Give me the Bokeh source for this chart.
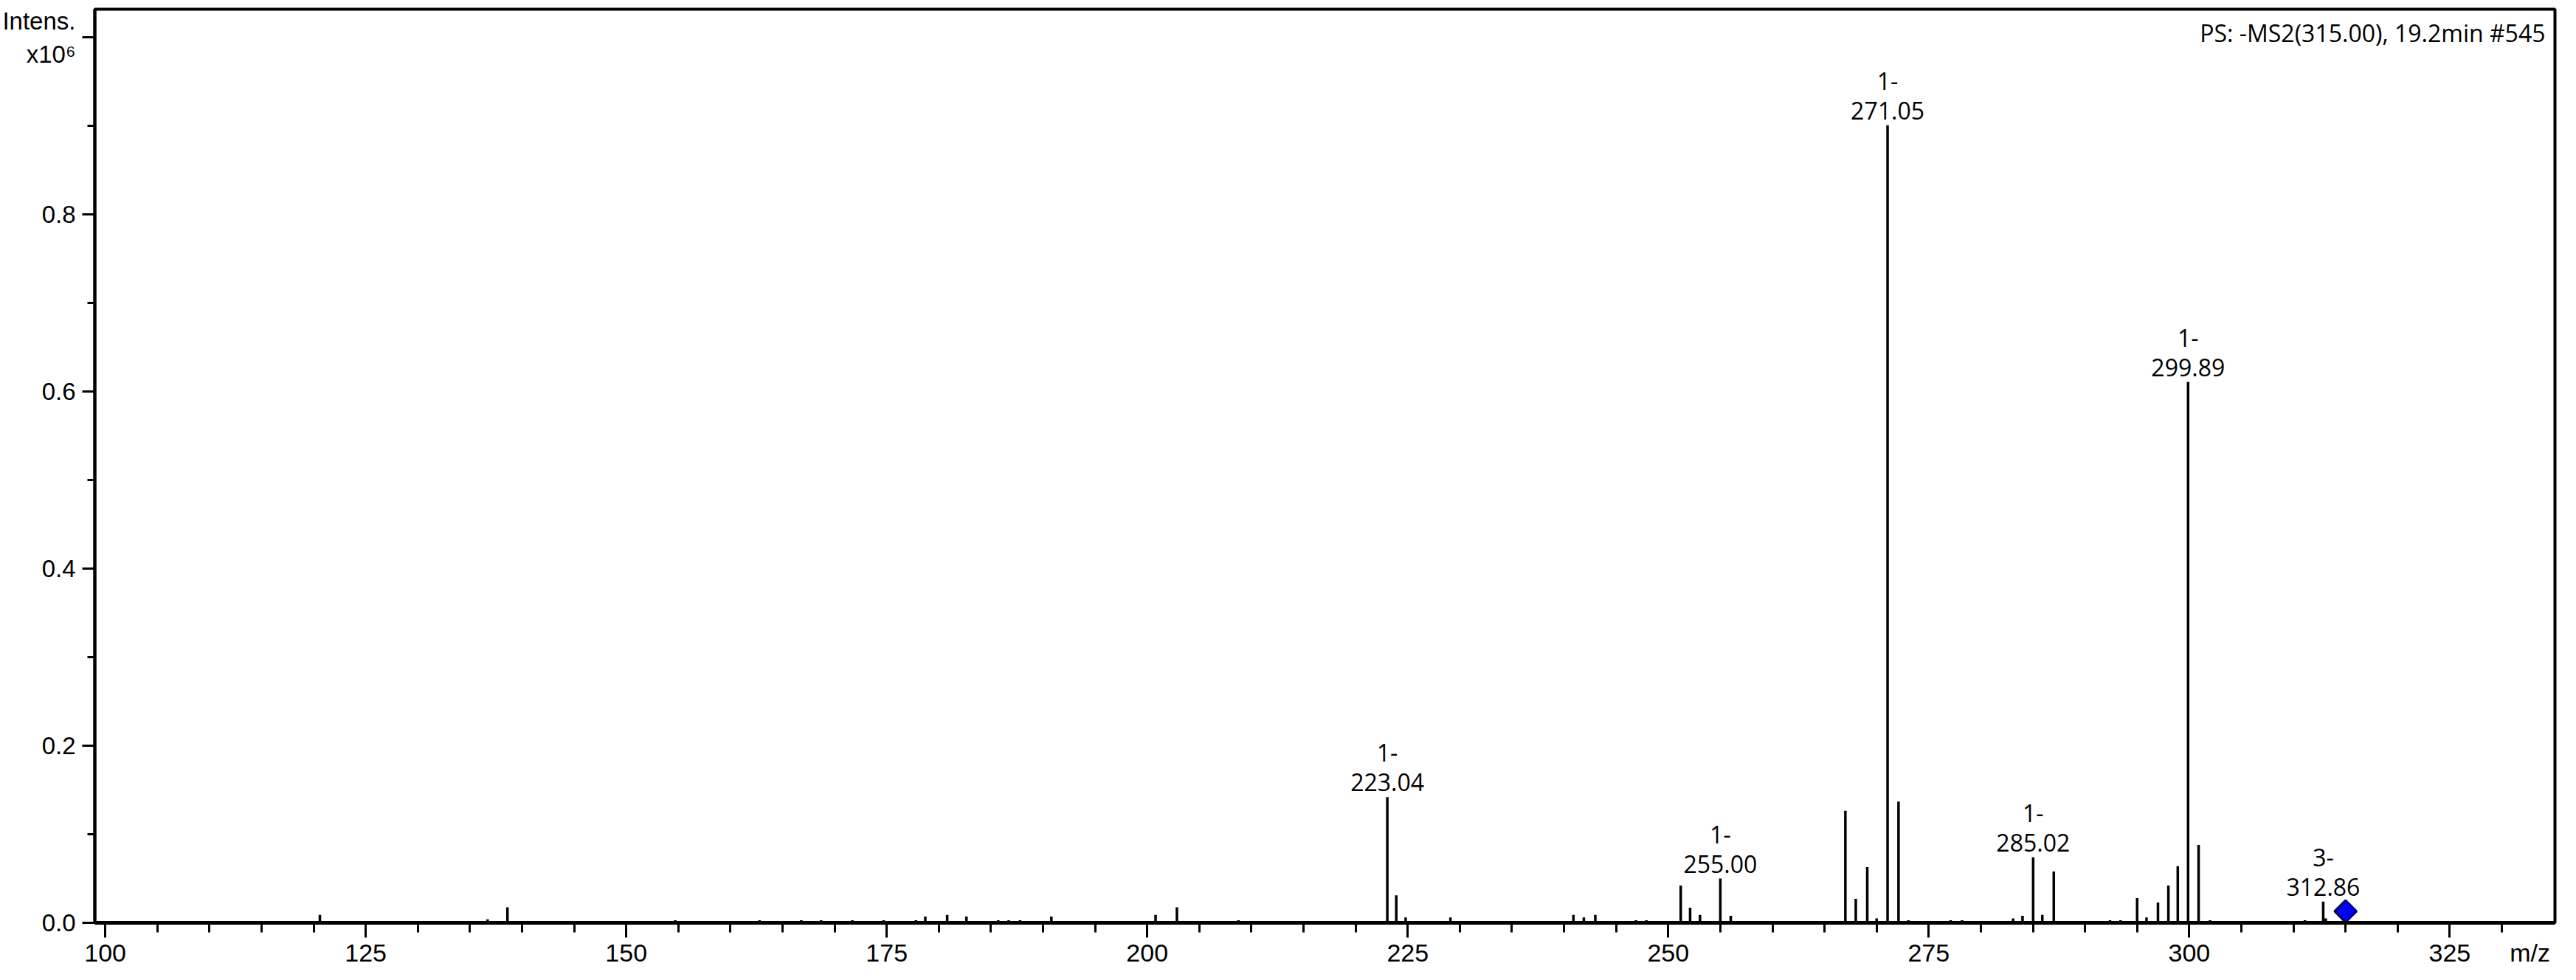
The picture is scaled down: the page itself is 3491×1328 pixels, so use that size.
from bokeh.plotting import figure
from bokeh.models import (ColumnDataSource, FixedTicker, PrintfTickFormatter, Label,
                          Range1d, LinearAxis)
from bokeh.embed import file_html
from bokeh.resources import INLINE
from bokeh.core.properties import value

# ---- data (m/z, intensity in units of 1e6) ----
peak_mz = [120.6, 136.7, 138.6, 154.7, 162.8, 166.8, 168.7, 171.7, 174.7, 177.8,
           178.7, 180.8, 182.65, 185.7, 186.7, 187.8, 190.8, 200.8, 202.85, 208.75,
           223.04, 223.9, 224.8, 226.7, 229.1, 240.9, 241.9, 243.0, 246.9, 247.9,
           251.2, 252.1, 253.05, 255.00, 256.0, 267.0, 268.0, 269.1, 270.0, 271.05,
           272.1, 273.05, 277.1, 278.2, 283.1, 284.0, 285.02, 285.9, 287.0, 287.5,
           292.4, 293.4, 295.0, 295.9, 297.0, 298.0, 298.9, 299.89, 300.9, 302.0,
           311.1, 312.86, 313.1]
peak_int = [0.009, 0.004, 0.0175, 0.003, 0.003, 0.003, 0.003, 0.003, 0.003, 0.003,
            0.007, 0.009, 0.007, 0.003, 0.003, 0.003, 0.007, 0.009, 0.0175, 0.003,
            0.142, 0.031, 0.006, 0.002, 0.006, 0.009, 0.006, 0.009, 0.003, 0.003,
            0.042, 0.017, 0.009, 0.050, 0.008, 0.1265, 0.027, 0.063, 0.005, 0.901,
            0.137, 0.003, 0.003, 0.003, 0.005, 0.008, 0.074, 0.009, 0.058, 0.002,
            0.003, 0.003, 0.028, 0.006, 0.023, 0.042, 0.064, 0.611, 0.088, 0.003,
            0.003, 0.024, 0.005]

label_mz = [223.04, 255.00, 271.05, 285.02, 299.89, 312.86]
label_int = [0.142, 0.050, 0.901, 0.074, 0.611, 0.024]
label_charge = ["1-", "1-", "1-", "1-", "1-", "3-"]
label_text = ["223.04", "255.00", "271.05", "285.02", "299.89", "312.86"]

precursor_mz = [315.00]
precursor_int = [0.013]

x_ticks = [100, 125, 150, 175, 200, 225, 250, 275, 300, 325]
x_minor = [v for v in range(100, 335, 5)]
y_ticks = [0.0, 0.2, 0.4, 0.6, 0.8, 1.0]
y_minor = [0.1, 0.3, 0.5, 0.7, 0.9]

x_unit_text = "m/z"
x_unit_pos = 332.7          # where the unit text sits on the m/z axis
y_unit_text = "Intens.\nx10\u2076"
title_text = "PS: -MS2(315.00), 19.2min #545"

AXIS_FONT = "Liberation Sans"

# ---- figure ----
p = figure(width=3475, height=1312, output_backend="svg", toolbar_location=None,
           x_range=Range1d(99.0, 335.1), y_range=Range1d(0.0, 1.032),
           min_border_left=127, min_border_right=13, min_border_top=12,
           min_border_bottom=62)
p.background_fill_color = "white"
p.border_fill_color = "white"
p.outline_line_color = "black"
p.outline_line_width = 4
p.xgrid.visible = False
p.ygrid.visible = False

# x axis: line + ticks only
ax = p.xaxis[0]
ax.ticker = FixedTicker(ticks=x_ticks, minor_ticks=x_minor)
ax.axis_line_width = 5
ax.major_tick_line_width = 3
ax.minor_tick_line_width = 3
ax.major_tick_in = 0
ax.major_tick_out = 20
ax.minor_tick_in = 0
ax.minor_tick_out = 13
ax.major_label_standoff = 0
ax.major_label_text_font_size = "1px"
ax.major_label_text_line_height = 1.0
ax.major_label_text_color = None

# second x axis below: the tick labels plus the unit text
lab_ticks = x_ticks + [x_unit_pos]
ax2 = LinearAxis(ticker=FixedTicker(ticks=lab_ticks, minor_ticks=[]))
ax2.major_label_overrides = {x_unit_pos: x_unit_text, str(x_unit_pos): x_unit_text}
ax2.axis_line_color = None
ax2.major_tick_line_color = None
ax2.minor_tick_line_color = None
ax2.major_tick_in = 0
ax2.major_tick_out = 0
ax2.minor_tick_in = 0
ax2.minor_tick_out = 0
ax2.major_label_standoff = 1
ax2.major_label_text_font = AXIS_FONT
ax2.major_label_text_font_size = "34px"
ax2.major_label_text_line_height = 1.0
ax2.major_label_text_color = "black"
p.add_layout(ax2, "below")

ay = p.yaxis[0]
ay.ticker = FixedTicker(ticks=y_ticks, minor_ticks=y_minor)
ay.formatter = PrintfTickFormatter(format="%.1f")
ay.major_label_overrides = {1: y_unit_text, "1": y_unit_text, "1.0": y_unit_text}
ay.axis_line_width = 4
ay.major_tick_line_width = 3
ay.minor_tick_line_width = 3
ay.major_tick_in = 0
ay.major_tick_out = 17
ay.minor_tick_in = 0
ay.minor_tick_out = 10
ay.major_label_standoff = 9
ay.major_label_text_font = AXIS_FONT
ay.major_label_text_font_size = "33px"
ay.major_label_text_color = "black"

# ---- spectrum sticks ----
src = ColumnDataSource(dict(mz=peak_mz, inten=peak_int, base=[0.0] * len(peak_mz)))
p.segment(x0="mz", y0="base", x1="mz", y1="inten", source=src,
          line_color="black", line_width=3.5)

# ---- peak labels ----
lsrc = ColumnDataSource(dict(mz=label_mz, inten=label_int, charge=label_charge, txt=label_text))
p.text(x="mz", y="inten", text="txt", source=lsrc, text_align="center",
       text_baseline="alphabetic", y_offset=-20, text_font=value("Open Sans"),
       text_font_size="32px", text_color="black")
p.text(x="mz", y="inten", text="charge", source=lsrc, text_align="center",
       text_baseline="alphabetic", y_offset=-60, text_font=value("Open Sans"),
       text_font_size="32px", text_color="black")

# ---- precursor marker ----
p.scatter(x=precursor_mz, y=precursor_int, marker="square", size=21, angle=0.785398,
          fill_color="#0000F5", line_color="#00006E", line_width=3)

# ---- scan title inside the frame ----
p.add_layout(Label(x=p.x_range.end, y=p.y_range.end, text=title_text,
                   x_offset=-13, y_offset=-32,
                   text_font="Open Sans", text_font_size="32px",
                   text_baseline="alphabetic", text_align="right", text_color="black"))

open("out.html", "w").write(file_html(p, INLINE))
